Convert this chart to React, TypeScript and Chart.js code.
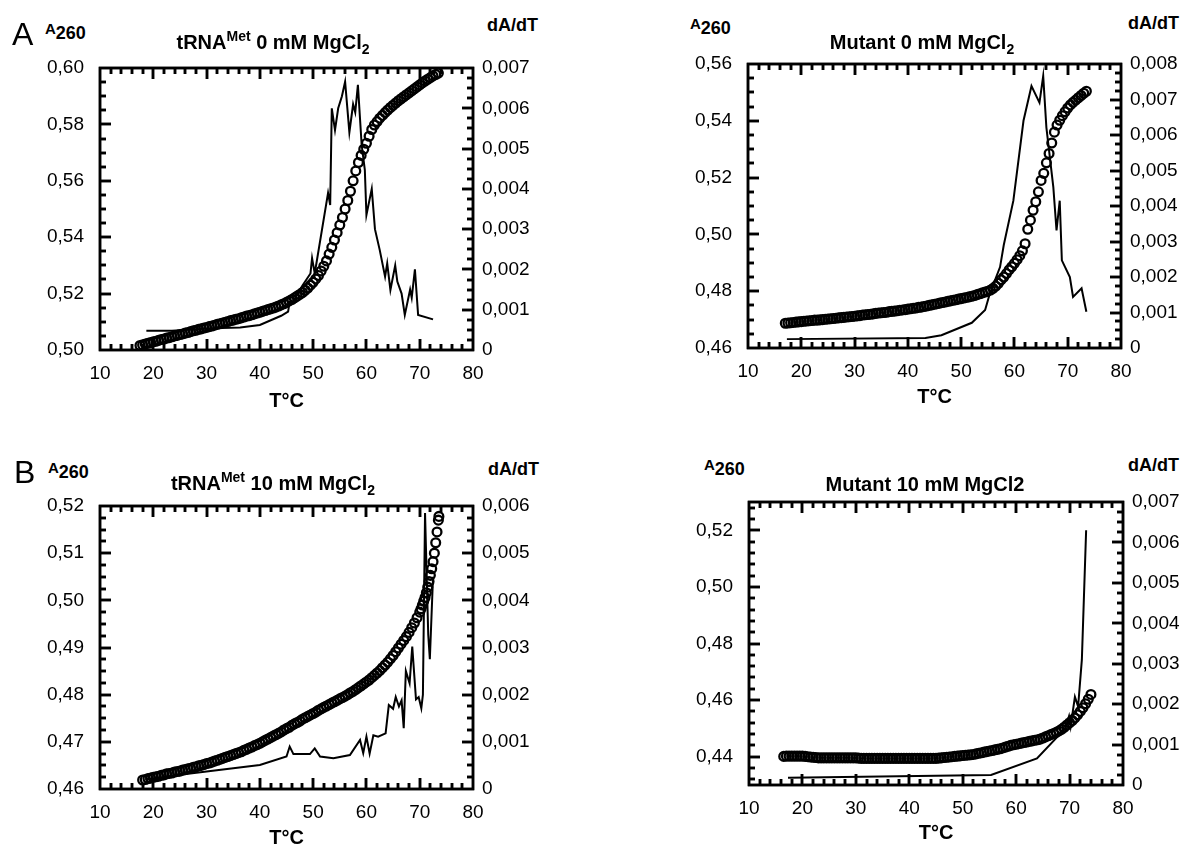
import React, { useEffect, useRef } from "react";
import { Chart, registerables } from "chart.js";

Chart.register(...registerables);

const FONT = "'Liberation Sans', Arial, Helvetica, sans-serif";
Chart.defaults.font.family = FONT;

type Pt = [number, number];

// ---------- tick labels ----------
const tempTicks = [10, 20, 30, 40, 50, 60, 70, 80];
const metMg0Ticks = [0.5, 0.52, 0.54, 0.56, 0.58, 0.6];
const mutMg0Ticks = [0.46, 0.48, 0.5, 0.52, 0.54, 0.56];
const metMg10Ticks = [0.46, 0.47, 0.48, 0.49, 0.5, 0.51, 0.52];
const mutMg10Ticks = [0.44, 0.46, 0.48, 0.5, 0.52];
const deriv7Ticks = [0, 0.001, 0.002, 0.003, 0.004, 0.005, 0.006, 0.007];
const deriv8Ticks = [0, 0.001, 0.002, 0.003, 0.004, 0.005, 0.006, 0.007, 0.008];
const deriv6Ticks = [0, 0.001, 0.002, 0.003, 0.004, 0.005, 0.006];

// ---------- tRNA Met, 0 mM MgCl2 ----------
const metMg0Abs: Pt[] = [
  [17.5,.5016],[18,.5018],[18.5,.5021],[19,.5024],[19.5,.5026],[20,.5029],[20.5,.5031],[21,.5034],[21.5,.5037],[22,.5039],
  [22.5,.5042],[23,.5044],[23.5,.5047],[24,.5050],[24.5,.5052],[25,.5055],[25.5,.5057],[26,.5060],[26.5,.5062],[27,.5065],
  [27.5,.5068],[28,.5070],[28.5,.5073],[29,.5075],[29.5,.5078],[30,.5080],[30.5,.5083],[31,.5085],[31.5,.5088],[32,.5091],
  [32.5,.5093],[33,.5096],[33.5,.5098],[34,.5101],[34.5,.5104],[35,.5106],[35.5,.5109],[36,.5111],[36.5,.5114],[37,.5117],
  [37.5,.5120],[38,.5122],[38.5,.5125],[39,.5128],[39.5,.5131],[40,.5134],[40.5,.5137],[41,.5140],[41.5,.5143],[42,.5146],
  [42.5,.5149],[43,.5152],[43.5,.5156],[44,.5160],[44.5,.5164],[45,.5169],[45.5,.5174],[46,.5179],[46.5,.5185],[47,.5191],
  [47.5,.5197],[48,.5204],[48.5,.5212],[49,.5220],[49.5,.5230],[50,.5240],[50.5,.5252],[51,.5264],[51.5,.5280],[52,.5297],
  [52.5,.5316],[53,.5340],[53.5,.5364],[54,.5390],[54.5,.5416],[55,.5443],[55.5,.5470],[56,.5500],[56.5,.5530],[57,.5563],
  [57.5,.5600],[58,.5635],[58.5,.5665],[59,.5690],[59.5,.5712],[60,.5733],[60.5,.5758],[61,.5782],[61.5,.5798],[62,.5810],
  [62.5,.5822],[63,.5832],[63.5,.5842],[64,.5851],[64.5,.5860],[65,.5868],[65.5,.5876],[66,.5884],[66.5,.5891],[67,.5898],
  [67.5,.5905],[68,.5912],[68.5,.5919],[69,.5926],[69.5,.5933],[70,.5940],[70.5,.5947],[71,.5954],[71.5,.5960],[72,.5966],
  [72.5,.5972],[73,.5977],[73.5,.5982]
];
const metMg0Deriv: Pt[] = [
  [18.7,.00048],[23.5,.00048],[31,.00054],[36.3,.00056],[40,.00062],[44,.00085],[45.3,.00095],[45.6,.0012],[46.2,.0012],
  [48,.0016],[49.5,.0019],[49.8,.00228],[50.3,.0019],[52.8,.0039],[53.2,.0036],[53.5,.006],[54.1,.00546],[54.7,.006],
  [55.4,.0063],[56,.00666],[56.8,.0054],[57.5,.0061],[57.9,.0059],[58.4,.00658],[59.1,.0051],[59.7,.00447],[60,.00335],
  [61,.004],[61.6,.003],[62.5,.00248],[63.5,.00182],[63.9,.00215],[64.5,.00149],[65.4,.0021],[65.8,.0017],[66.6,.0014],
  [67.2,.00087],[68.2,.0015],[68.5,.0013],[69.1,.002],[69.7,.00087],[72.5,.00076]
];

// ---------- Mutant, 0 mM MgCl2 ----------
const mutMg0Abs: Pt[] = [
  [17,.4687],[17.5,.4688],[18,.4689],[18.5,.4690],[19,.4691],[19.5,.4692],[20,.4693],[20.5,.4694],[21,.4695],[21.5,.4696],
  [22,.4697],[22.5,.4698],[23,.4698],[23.5,.4699],[24,.4700],[24.5,.4701],[25,.4702],[25.5,.4703],[26,.4704],[26.5,.4705],
  [27,.4706],[27.5,.4707],[28,.4708],[28.5,.4709],[29,.4710],[29.5,.4711],[30,.4712],[30.5,.4713],[31,.4714],[31.5,.4716],
  [32,.4717],[32.5,.4718],[33,.4719],[33.5,.4720],[34,.4722],[34.5,.4723],[35,.4724],[35.5,.4725],[36,.4726],[36.5,.4728],
  [37,.4729],[37.5,.4730],[38,.4731],[38.5,.4733],[39,.4734],[39.5,.4735],[40,.4737],[40.5,.4738],[41,.4740],[41.5,.4741],
  [42,.4743],[42.5,.4744],[43,.4746],[43.5,.4748],[44,.4750],[44.5,.4752],[45,.4754],[45.5,.4756],[46,.4758],[46.5,.4760],
  [47,.4762],[47.5,.4764],[48,.4766],[48.5,.4768],[49,.4770],[49.5,.4772],[50,.4774],[50.5,.4776],[51,.4778],[51.5,.4780],
  [52,.4782],[52.5,.4785],[53,.4788],[53.5,.4791],[54,.4794],[54.5,.4797],[55,.4800],[55.5,.4804],[56,.4810],[56.5,.4818],
  [57,.4828],[57.5,.4840],[58,.4850],[58.5,.4862],[59,.4875],[59.5,.4886],[60,.4898],[60.5,.4911],[61,.4925],[61.5,.4942],
  [62,.4967],[62.5,.5018],[63,.5050],[63.5,.5085],[64,.5115],[64.5,.5150],[65,.5190],[65.5,.5215],[66,.5252],[66.5,.5285],
  [67,.5322],[67.5,.5360],[68,.5385],[68.5,.5402],[69,.5418],[69.5,.5432],[70,.5445],[70.5,.5456],[71,.5465],[71.5,.5473],
  [72,.5481],[72.5,.5489],[73,.5497],[73.5,.5504]
];
const mutMg0Deriv: Pt[] = [
  [17.3,.00025],[43.3,.00028],[46.3,.00036],[52,.00071],[54.5,.00107],[55.4,.00154],[57.3,.00228],[58,.0029],
  [59.8,.00415],[61.7,.0064],[63.2,.00738],[64.7,.00691],[65.4,.00766],[66,.00621],[67.3,.00453],[67.9,.00331],
  [68.5,.00415],[68.9,.00247],[70.4,.002],[71,.00144],[72.6,.00168],[73.5,.00102]
];

// ---------- tRNA Met, 10 mM MgCl2 ----------
const metMg10Abs: Pt[] = [
  [18,.4619],[18.5,.4620],[19,.4622],[19.5,.4623],[20,.4625],[20.5,.4626],[21,.4627],[21.5,.4629],[22,.4630],[22.5,.4632],
  [23,.4633],[23.5,.4634],[24,.4636],[24.5,.4637],[25,.4638],[25.5,.4640],[26,.4641],[26.5,.4643],[27,.4644],[27.5,.4646],
  [28,.4647],[28.5,.4649],[29,.4650],[29.5,.4652],[30,.4654],[30.5,.4655],[31,.4657],[31.5,.4659],[32,.4661],[32.5,.4663],
  [33,.4665],[33.5,.4667],[34,.4669],[34.5,.4671],[35,.4673],[35.5,.4675],[36,.4677],[36.5,.4679],[37,.4682],[37.5,.4684],
  [38,.4687],[38.5,.4689],[39,.4692],[39.5,.4694],[40,.4697],[40.5,.4700],[41,.4703],[41.5,.4706],[42,.4709],[42.5,.4712],
  [43,.4715],[43.5,.4718],[44,.4721],[44.5,.4725],[45,.4728],[45.5,.4731],[46,.4735],[46.5,.4738],[47,.4741],[47.5,.4744],
  [48,.4748],[48.5,.4751],[49,.4754],[49.5,.4757],[50,.4760],[50.5,.4763],[51,.4767],[51.5,.4770],[52,.4773],[52.5,.4776],
  [53,.4779],[53.5,.4782],[54,.4785],[54.5,.4788],[55,.4791],[55.5,.4794],[56,.4797],[56.5,.4800],[57,.4804],[57.5,.4807],
  [58,.4811],[58.5,.4815],[59,.4819],[59.5,.4823],[60,.4827],[60.5,.4831],[61,.4836],[61.5,.4841],[62,.4846],[62.5,.4851],
  [63,.4857],[63.5,.4863],[64,.4869],[64.5,.4876],[65,.4883],[65.5,.4891],[66,.4899],[66.5,.4907],[67,.4915],[67.5,.4923],
  [68,.4932],[68.5,.4942],[69,.4952],[69.5,.4963],[70,.4975],[70.25,.4982],[70.5,.4990],[70.75,.4998],[71,.5006],
  [71.25,.5016],[71.5,.5028],[71.75,.5040],[72,.5053],[72.25,.5067],[72.5,.5082],[72.75,.5100],[73,.5122],[73.25,.5145],
  [73.5,.5170],[73.6,.5178]
];
const metMg10Deriv: Pt[] = [
  [18.5,.0002],[25,.0003],[30,.00037],[35,.00044],[40,.00051],[45,.00069],[45.6,.0009],[46.3,.00074],[49.4,.00074],
  [50.3,.00086],[51.3,.00069],[53.8,.00065],[56.9,.00072],[58.8,.00104],[59.4,.00076],[60,.00111],[60.6,.00075],
  [61.3,.00114],[62.2,.00111],[63.6,.00118],[64.2,.00178],[65,.0017],[65.5,.00195],[66.1,.00175],[66.6,.00188],
  [67,.00129],[67.4,.0025],[68.1,.00224],[68.6,.00302],[69.3,.0019],[69.8,.00195],[70.3,.00171],[70.6,.002],
  [71,.00585],[71.6,.00327],[71.9,.00275],[72.5,.0045]
];

// ---------- Mutant, 10 mM MgCl2 ----------
const mutMg10Abs: Pt[] = [
  [16.5,.4401],[17,.4402],[17.5,.4402],[18,.4402],[18.5,.4402],[19,.4402],[19.5,.4402],[20,.4402],[20.5,.4401],[21,.4400],
  [21.5,.4399],[22,.4398],[22.5,.4397],[23,.4396],[23.5,.4396],[24,.4396],[24.5,.4396],[25,.4396],[25.5,.4396],[26,.4396],
  [26.5,.4396],[27,.4396],[27.5,.4396],[28,.4396],[28.5,.4396],[29,.4396],[29.5,.4396],[30,.4396],[30.5,.4395],[31,.4394],
  [31.5,.4394],[32,.4394],[32.5,.4394],[33,.4394],[33.5,.4394],[34,.4394],[34.5,.4394],[35,.4394],[35.5,.4394],[36,.4394],
  [36.5,.4394],[37,.4394],[37.5,.4394],[38,.4394],[38.5,.4394],[39,.4394],[39.5,.4394],[40,.4394],[40.5,.4394],[41,.4394],
  [41.5,.4394],[42,.4394],[42.5,.4394],[43,.4394],[43.5,.4394],[44,.4394],[44.5,.4394],[45,.4394],[45.5,.4395],[46,.4396],
  [46.5,.4397],[47,.4398],[47.5,.4399],[48,.4400],[48.5,.4401],[49,.4402],[49.5,.4403],[50,.4404],[50.5,.4405],[51,.4406],
  [51.5,.4407],[52,.4408],[52.5,.4410],[53,.4412],[53.5,.4414],[54,.4416],[54.5,.4418],[55,.4420],[55.5,.4422],[56,.4424],
  [56.5,.4426],[57,.4428],[57.5,.4431],[58,.4434],[58.5,.4437],[59,.4440],[59.5,.4442],[60,.4444],[60.5,.4446],[61,.4448],
  [61.5,.4450],[62,.4452],[62.5,.4454],[63,.4456],[63.5,.4458],[64,.4460],[64.5,.4462],[65,.4466],[65.5,.4470],[66,.4474],
  [66.5,.4478],[67,.4482],[67.5,.4486],[68,.4491],[68.5,.4497],[69,.4504],[69.5,.4512],[70,.4520],[70.5,.4528],[71,.4537],
  [71.5,.4548],[72,.4560],[72.5,.4573],[73,.4587],[73.5,.4603],[74,.4620]
];
const mutMg10Deriv: Pt[] = [
  [17.3,.00018],[55.3,.00025],[63.9,.00066],[69.2,.0014],[69.9,.0017],[70.2,.00145],[71,.00218],[71.6,.00194],
  [72.3,.0031],[73.1,.0063]
];

interface PanelSpec {
  left: number; top: number; right: number; bottom: number;
  abs: Pt[]; deriv: Pt[];
  yMin: number; yMax: number; yTicks: number[]; yMinor: number; yDigits: number;
  dMax: number; dTicks: number[]; dMinor: number;
  xTitlePad: number;
}

const LEFT_W = 100;
const RIGHT_W = 70;
const TOP_PAD = 20;
const X_H = 65;
const TICK_RESERVE = 8;

const panels: PanelSpec[] = [
  { left: 100, top: 68, right: 473, bottom: 350, abs: metMg0Abs, deriv: metMg0Deriv,
    yMin: 0.5, yMax: 0.6, yTicks: metMg0Ticks, yMinor: 0.005, yDigits: 2,
    dMax: 0.007, dTicks: deriv7Ticks, dMinor: 0.00025, xTitlePad: 2 },
  { left: 748, top: 64, right: 1121, bottom: 348, abs: mutMg0Abs, deriv: mutMg0Deriv,
    yMin: 0.46, yMax: 0.56, yTicks: mutMg0Ticks, yMinor: 0.005, yDigits: 2,
    dMax: 0.008, dTicks: deriv8Ticks, dMinor: 0.00025, xTitlePad: 4 },
  { left: 100, top: 506, right: 473, bottom: 789, abs: metMg10Abs, deriv: metMg10Deriv,
    yMin: 0.46, yMax: 0.52, yTicks: metMg10Ticks, yMinor: 0.0025, yDigits: 2,
    dMax: 0.006, dTicks: deriv6Ticks, dMinor: 0.00025, xTitlePad: 4 },
  { left: 749, top: 502, right: 1123, bottom: 785, abs: mutMg10Abs, deriv: mutMg10Deriv,
    yMin: 0.43, yMax: 0.53, yTicks: mutMg10Ticks, yMinor: 0.004, yDigits: 2,
    dMax: 0.007, dTicks: deriv7Ticks, dMinor: 0.00025, xTitlePad: 5 },
];

function minorValues(min: number, max: number, anchor: number, step: number): number[] {
  const out: number[] = [];
  const k0 = Math.ceil((min - anchor) / step - 1e-6);
  const k1 = Math.floor((max - anchor) / step + 1e-6);
  for (let k = k0; k <= k1; k++) out.push(anchor + k * step);
  return out;
}

function drawFrame(chart: any, spec: PanelSpec) {
  const ctx: CanvasRenderingContext2D = chart.ctx;
  const a = chart.chartArea;
  const sx = chart.scales.x, sy = chart.scales.y, sd = chart.scales.y1;
  if (!a || !sx || !sy || !sd) return;
  ctx.save();
  ctx.globalAlpha = 1;
  ctx.globalCompositeOperation = "source-over";
  ctx.setLineDash([]);
  ctx.strokeStyle = "#000";
  ctx.lineCap = "butt";
  ctx.lineWidth = 2.5;
  ctx.beginPath();
  for (const v of minorValues(10, 80, 10, 2)) {
    const px = Math.round(sx.getPixelForValue(v));
    const major = tempTicks.some((t) => Math.abs(t - v) < 1e-6);
    const len = major ? 11 : 6;
    ctx.moveTo(px, a.bottom); ctx.lineTo(px, a.bottom - len);
    ctx.moveTo(px, a.top); ctx.lineTo(px, a.top + len);
  }
  for (const v of minorValues(spec.yMin, spec.yMax, spec.yTicks[0], spec.yMinor)) {
    const py = Math.round(sy.getPixelForValue(v));
    const major = spec.yTicks.some((t) => Math.abs(t - v) < 1e-7);
    const len = major ? 11 : 6;
    ctx.moveTo(a.left, py); ctx.lineTo(a.left + len, py);
  }
  for (const v of minorValues(0, spec.dMax, 0, spec.dMinor)) {
    const py = Math.round(sd.getPixelForValue(v));
    const major = spec.dTicks.some((t) => Math.abs(t - v) < 1e-8);
    const len = major ? 11 : 6;
    ctx.moveTo(a.right, py); ctx.lineTo(a.right - len, py);
  }
  ctx.rect(a.left, a.top, a.right - a.left, a.bottom - a.top);
  ctx.stroke();
  ctx.restore();
}

function Panel({ spec }: { spec: PanelSpec }) {
  const ref = useRef<HTMLCanvasElement | null>(null);
  const w = spec.right - spec.left + LEFT_W + RIGHT_W;
  const h = spec.bottom - spec.top + TOP_PAD + X_H;

  useEffect(() => {
    if (!ref.current) return;
    const framePlugin = {
      id: "frameTicks",
      afterDatasetsDraw(chart: any) { drawFrame(chart, spec); },
      afterDraw(chart: any) { drawFrame(chart, spec); },
    };

    const chart = new Chart(ref.current, {
      type: "scatter",
      data: {
        datasets: [
          {
            type: "line",
            label: "dA/dT",
            data: spec.deriv.map(([x, y]) => ({ x, y })),
            yAxisID: "y1",
            borderColor: "#000",
            borderWidth: 2,
            pointRadius: 0,
            tension: 0,
            fill: false,
            order: 0,
          } as any,
          {
            type: "scatter",
            label: "A260",
            data: spec.abs.map(([x, y]) => ({ x, y })),
            yAxisID: "y",
            pointStyle: "circle",
            pointRadius: 4.4,
            borderColor: "#000",
            backgroundColor: "rgba(255,255,255,0)",
            borderWidth: 2.3,
            showLine: false,
            order: 1,
          } as any,
        ],
      },
      options: {
        responsive: false,
        animation: false,
        events: [],
        layout: { padding: { top: TOP_PAD, left: 0, right: 0, bottom: 0 }, autoPadding: false },
        plugins: { legend: { display: false }, tooltip: { enabled: false }, title: { display: false } },
        scales: {
          x: {
            type: "linear",
            position: "bottom",
            min: 10,
            max: 80,
            afterBuildTicks: (s: any) => { s.ticks = tempTicks.map((v) => ({ value: v })); },
            afterFit: (s: any) => { s.height = X_H; },
            grid: { display: false },
            border: { display: false },
            ticks: {
              color: "#000",
              font: { family: FONT, size: 19 },
              padding: 12 - TICK_RESERVE,
              maxRotation: 0,
              autoSkip: false,
              callback: (v: any) => String(v),
            },
            title: {
              display: true,
              text: "T°C",
              color: "#000",
              font: { family: FONT, size: 20, weight: "bold" },
              padding: { top: 0, bottom: spec.xTitlePad },
            },
          },
          y: {
            type: "linear",
            position: "left",
            min: spec.yMin,
            max: spec.yMax,
            afterBuildTicks: (s: any) => { s.ticks = spec.yTicks.map((v) => ({ value: v })); },
            afterFit: (s: any) => { s.width = LEFT_W; },
            grid: { display: false },
            border: { display: false },
            ticks: {
              color: "#000",
              font: { family: FONT, size: 19 },
              padding: 16 - TICK_RESERVE,
              autoSkip: false,
              callback: (v: any) => Number(v).toFixed(spec.yDigits).replace(".", ","),
            },
          },
          y1: {
            type: "linear",
            position: "right",
            min: 0,
            max: spec.dMax,
            afterBuildTicks: (s: any) => { s.ticks = spec.dTicks.map((v) => ({ value: v })); },
            afterFit: (s: any) => { s.width = RIGHT_W; },
            grid: { display: false },
            border: { display: false },
            ticks: {
              color: "#000",
              font: { family: FONT, size: 19 },
              padding: 9 - TICK_RESERVE,
              autoSkip: false,
              callback: (v: any) => (Number(v) === 0 ? "0" : Number(v).toFixed(3).replace(".", ",")),
            },
          },
        },
      } as any,
      plugins: [framePlugin],
    });
    return () => chart.destroy();
  }, [spec]);

  return (
    <canvas
      ref={ref}
      width={w}
      height={h}
      style={{ position: "absolute", left: spec.left - LEFT_W, top: spec.top - TOP_PAD, width: w, height: h, display: "block" }}
    />
  );
}

const textBase: React.CSSProperties = {
  position: "absolute",
  fontFamily: FONT,
  color: "#000",
  whiteSpace: "nowrap",
  lineHeight: 1,
};

function Label({ x, y, children, size, bold = true, center = false }: any) {
  return (
    <div
      style={{
        ...textBase,
        left: x,
        top: y,
        fontSize: size,
        fontWeight: bold ? "bold" : "normal",
        transform: center ? "translate(-50%, -50%)" : "translateY(-50%)",
      }}
    >
      {children}
    </div>
  );
}

const supStyle: React.CSSProperties = { fontSize: 14, position: "relative", top: -8, verticalAlign: "baseline" };
const subStyle: React.CSSProperties = { fontSize: 14, position: "relative", top: 5, verticalAlign: "baseline" };

function A260({ x, y }: { x: number; y: number }) {
  return (
    <Label x={x} y={y} size={18}>
      <span style={{ fontSize: 15, position: "relative", top: -3 }}>A</span>
      <span style={{ position: "relative", top: 2 }}>260</span>
    </Label>
  );
}

export default function App() {
  return (
    <div style={{ position: "fixed", left: 0, top: 0, width: 1186, height: 846, overflow: "hidden", background: "#fff" }}>
      {panels.map((p, i) => (
        <Panel key={i} spec={p} />
      ))}

      <Label x={12} y={34} size={32} bold={false}>A</Label>
      <Label x={14} y={472} size={32} bold={false}>B</Label>

      <A260 x={45} y={31} />
      <A260 x={690} y={26} />
      <A260 x={48} y={470} />
      <A260 x={704} y={467} />

      <Label x={487} y={25} size={18}>dA/dT</Label>
      <Label x={1128} y={23} size={18}>dA/dT</Label>
      <Label x={488} y={469} size={18}>dA/dT</Label>
      <Label x={1128} y={465} size={18}>dA/dT</Label>

      <Label x={273} y={42} size={20} center>
        tRNA<span style={supStyle}>Met</span> 0 mM MgCl<span style={subStyle}>2</span>
      </Label>
      <Label x={922} y={42} size={20} center>
        Mutant 0 mM MgCl<span style={subStyle}>2</span>
      </Label>
      <Label x={273} y={483} size={20} center>
        tRNA<span style={supStyle}>Met</span> 10 mM MgCl<span style={subStyle}>2</span>
      </Label>
      <Label x={925} y={484} size={20} center>
        Mutant 10 mM MgCl2
      </Label>
    </div>
  );
}
